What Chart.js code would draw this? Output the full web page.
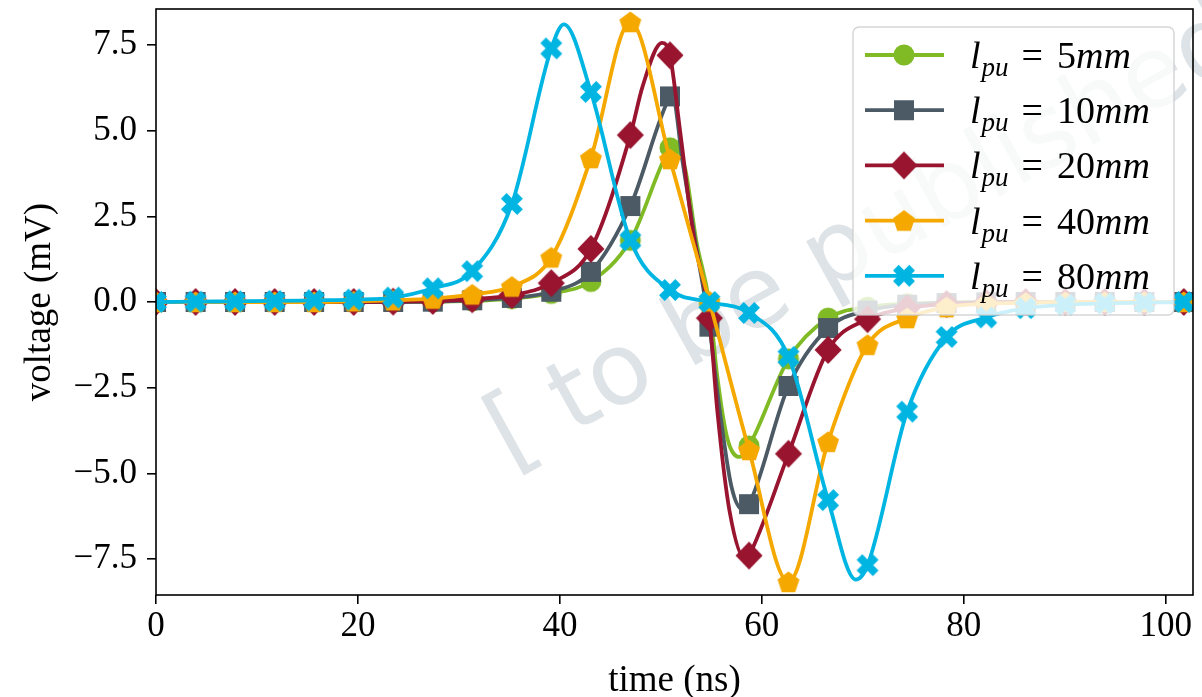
<!DOCTYPE html>
<html>
<head>
<meta charset="utf-8">
<script src="https://cdn.jsdelivr.net/npm/chart.js@4.4.1/dist/chart.umd.min.js"></script>
<style>
  html, body { margin: 0; padding: 0; background: #fff; }
  #wrap { width: 1202px; height: 697px; }
</style>
</head>
<body>
<div id="wrap"><canvas id="chart" width="1202" height="697"></canvas></div>
<script>
/* ---- DATA ---- */
const times = [0, 3.92, 7.83, 11.75, 15.66, 19.58, 23.49, 27.41, 31.32, 35.24, 39.15, 43.07, 46.98,
  50.90, 54.81, 58.73, 62.64, 66.56, 70.47, 74.39, 78.30, 82.22, 86.13, 90.05, 93.96, 97.88, 101.79];

// values at the marker times (mV)
const lpu5  = [0, 0, 0, 0, 0, 0, 0, 0.01, 0.03, 0.1, 0.25, 0.6, 1.8, 4.5, -0.05, -4.2, -1.66, -0.47, -0.15, -0.05, -0.02, 0, 0, 0, 0, 0, 0];
const lpu10 = [0, 0, 0, 0, 0, 0, 0, 0.01, 0.05, 0.12, 0.3, 0.88, 2.8, 6.0, -0.72, -5.9, -2.45, -0.76, -0.25, -0.08, -0.03, -0.01, 0, 0, 0, 0, 0];
const lpu20 = [0, 0, 0, 0, 0, 0, 0.01, 0.03, 0.08, 0.2, 0.55, 1.55, 4.87, 7.2, -0.47, -7.4, -4.43, -1.4, -0.5, -0.18, -0.06, -0.02, 0, 0, 0, 0, 0];
const lpu40 = [0, 0, 0, 0, 0, 0.02, 0.05, 0.1, 0.22, 0.45, 1.3, 4.2, 8.17, 4.17, 0.02, -4.32, -8.17, -4.08, -1.25, -0.47, -0.15, -0.05, -0.02, 0, 0, 0, 0];
const lpu80 = [0, 0.01, 0.02, 0.03, 0.05, 0.07, 0.13, 0.4, 0.9, 2.86, 7.4, 6.13, 1.8, 0.35, 0, -0.32, -1.6, -5.78, -7.68, -3.2, -1.02, -0.45, -0.18, -0.08, -0.04, -0.02, 0];

// extra curve points between markers (peaks, steep parts)
const lpu5Extra  = [[51.1, 4.55], [52.4, 3.9], [53.5, 1.8], [55.6, -2.2], [56.6, -4.0], [57.8, -4.52]];
const lpu10Extra = [[51.1, 6.05], [52.2, 4.0], [53.5, 1.6], [55.8, -3.1], [57.0, -5.4], [58.1, -6.05]];
const lpu20Extra = [[48.2, 6.3], [50.1, 7.56], [51.9, 5.0], [53.2, 2.0], [55.6, -3.2], [56.8, -6.1], [58.4, -7.52]];
const lpu40Extra = [];
const lpu80Extra = [[40.4, 8.1], [69.3, -8.1]];

const seriesNums = ['5', '10', '20', '40', '80'];
const xTicks = [0, 20, 40, 60, 80, 100];
const yTicks = [-7.5, -5, -2.5, 0, 2.5, 5, 7.5];

/* ---- STYLE ---- */
const COLORS = ['#80bb26', '#4b5a64', '#98142f', '#f5a800', '#00b5e2'];
const SHAPES = ['circle', 'square', 'diamond', 'pentagon', 'x'];
const SERIF = '"Liberation Serif", "DejaVu Serif", serif';

function makeMarker(shape, color) {
  const c = document.createElement('canvas');
  c.width = 32; c.height = 32;
  const g = c.getContext('2d');
  g.fillStyle = color;
  g.translate(16, 16);
  g.beginPath();
  if (shape === 'circle') g.arc(0, 0, 10.5, 0, Math.PI * 2);
  else if (shape === 'square') g.rect(-10, -10, 20, 20);
  else if (shape === 'diamond') { g.moveTo(0, -14); g.lineTo(13.5, 0); g.lineTo(0, 14); g.lineTo(-13.5, 0); g.closePath(); }
  else if (shape === 'pentagon') {
    for (let k = 0; k < 5; k++) {
      const a = -Math.PI / 2 + k * 2 * Math.PI / 5;
      g.lineTo(11.5 * Math.cos(a), 11.5 * Math.sin(a) + 1);
    }
    g.closePath();
  } else if (shape === 'x') {
    g.rotate(Math.PI / 4);
    g.rect(-11.5, -4, 23, 8);
    g.rect(-4, -11.5, 8, 23);
  }
  g.fill();
  return c;
}
const MARKERS = SHAPES.map((s, i) => makeMarker(s, COLORS[i]));

function buildPoints(vals, extra) {
  const pts = times.map((t, i) => ({ x: t, y: vals[i], m: true }));
  extra.forEach(([x, y]) => pts.push({ x, y, m: false }));
  return pts.sort((a, b) => a.x - b.x);
}

const allVals = [lpu5, lpu10, lpu20, lpu40, lpu80];
const allExtra = [lpu5Extra, lpu10Extra, lpu20Extra, lpu40Extra, lpu80Extra];

const datasets = allVals.map((vals, i) => ({
  label: 'l_pu = ' + seriesNums[i] + 'mm',
  data: buildPoints(vals, allExtra[i]),
  borderColor: COLORS[i],
  backgroundColor: COLORS[i],
  borderWidth: 3.8,
  pointStyle: MARKERS[i],
  pointRadius: ctx => (ctx.raw && ctx.raw.m ? 10 : 0),
  pointHoverRadius: 0,
  cubicInterpolationMode: 'monotone',
  order: 5 - i
}));

/* ---- PLUGINS ---- */
const watermark = {
  id: 'watermark',
  beforeDatasetsDraw(chart) {
    const ctx = chart.ctx;
    ctx.save();
    ctx.translate(510, 468);
    ctx.rotate(-29 * Math.PI / 180);
    ctx.font = '100px "DejaVu Sans"';
    ctx.fillStyle = '#dde3e6';
    ctx.textBaseline = 'alphabetic';
    ctx.fillText('[ to be published ]', 0, 0);
    ctx.restore();
  }
};

function drawLegendLabel(ctx, x, yBase, num) {
  ctx.fillStyle = '#000';
  ctx.textBaseline = 'alphabetic';
  ctx.font = 'italic 38px ' + SERIF;
  ctx.fillText('l', x, yBase);
  x += ctx.measureText('l').width + 1;
  ctx.font = 'italic 27px ' + SERIF;
  ctx.fillText('pu', x, yBase + 8);
  x += ctx.measureText('pu').width + 13;
  ctx.font = '38px ' + SERIF;
  ctx.fillText('=', x, yBase);
  x += ctx.measureText('=').width + 14;
  ctx.fillText(num, x, yBase);
  x += ctx.measureText(num).width;
  ctx.font = 'italic 38px ' + SERIF;
  ctx.fillText('mm', x, yBase);
}

const frameAndLegend = {
  id: 'frameAndLegend',
  afterDatasetsDraw(chart) {
    const ctx = chart.ctx;
    const a = chart.chartArea;
    ctx.save();
    // spines
    ctx.strokeStyle = '#000';
    ctx.lineWidth = 1.6;
    ctx.strokeRect(a.left, a.top, a.right - a.left, a.bottom - a.top);

    // legend box
    const bx = 853, by = 27, bw = 321, bh = 288, r = 6;
    ctx.beginPath();
    ctx.roundRect(bx, by, bw, bh, r);
    ctx.fillStyle = 'rgba(255,255,255,0.8)';
    ctx.fill();
    ctx.strokeStyle = 'rgba(204,204,204,0.8)';
    ctx.lineWidth = 1.5;
    ctx.stroke();

    seriesNums.forEach((num, i) => {
      const cy = 55 + i * 55.2;
      ctx.beginPath();
      ctx.moveTo(865, cy);
      ctx.lineTo(944, cy);
      ctx.strokeStyle = COLORS[i];
      ctx.lineWidth = 3.8;
      ctx.stroke();
      const mk = MARKERS[i];
      ctx.drawImage(mk, 904 - mk.width / 2, cy - mk.height / 2);
      drawLegendLabel(ctx, 970, cy + 13, num);
    });
    ctx.restore();
  }
};

/* ---- CHART ---- */
const tickGrid = { drawOnChartArea: false, drawTicks: true, tickLength: 9, color: '#000', lineWidth: 1.6 };

new Chart(document.getElementById('chart'), {
  type: 'line',
  data: { datasets },
  plugins: [watermark, frameAndLegend],
  options: {
    responsive: false,
    animation: false,
    devicePixelRatio: 1,
    events: [],
    layout: { autoPadding: false, padding: { top: 9, right: 9, left: 0, bottom: 0 } },
    plugins: { legend: { display: false }, tooltip: { enabled: false } },
    scales: {
      x: {
        type: 'linear',
        min: 0,
        max: 102.7,
        afterBuildTicks: s => { s.ticks = xTicks.map(v => ({ value: v })); },
        afterFit: s => { s.height = 102; s.paddingLeft = 0; s.paddingRight = 0; },
        border: { display: false },
        grid: tickGrid,
        ticks: { color: '#000', font: { family: SERIF, size: 35 }, padding: 2, maxRotation: 0, callback: v => String(v) },
        title: { display: true, text: 'time (ns)', color: '#000', font: { family: SERIF, size: 37 }, padding: { top: 0, bottom: -6 } }
      },
      y: {
        type: 'linear',
        min: -8.55,
        max: 8.55,
        afterBuildTicks: s => { s.ticks = yTicks.map(v => ({ value: v })); },
        afterFit: s => { s.width = 156; s.paddingTop = 0; s.paddingBottom = 0; },
        border: { display: false },
        grid: tickGrid,
        ticks: {
          color: '#000', font: { family: SERIF, size: 35 }, padding: 10,
          callback: v => (v < 0 ? '\u2212' : '') + Math.abs(v).toFixed(1)
        },
        title: { display: true, text: 'voltage (mV)', color: '#000', font: { family: SERIF, size: 37 }, padding: { top: 18, bottom: 0 } }
      }
    }
  }
});
</script>
</body>
</html>
